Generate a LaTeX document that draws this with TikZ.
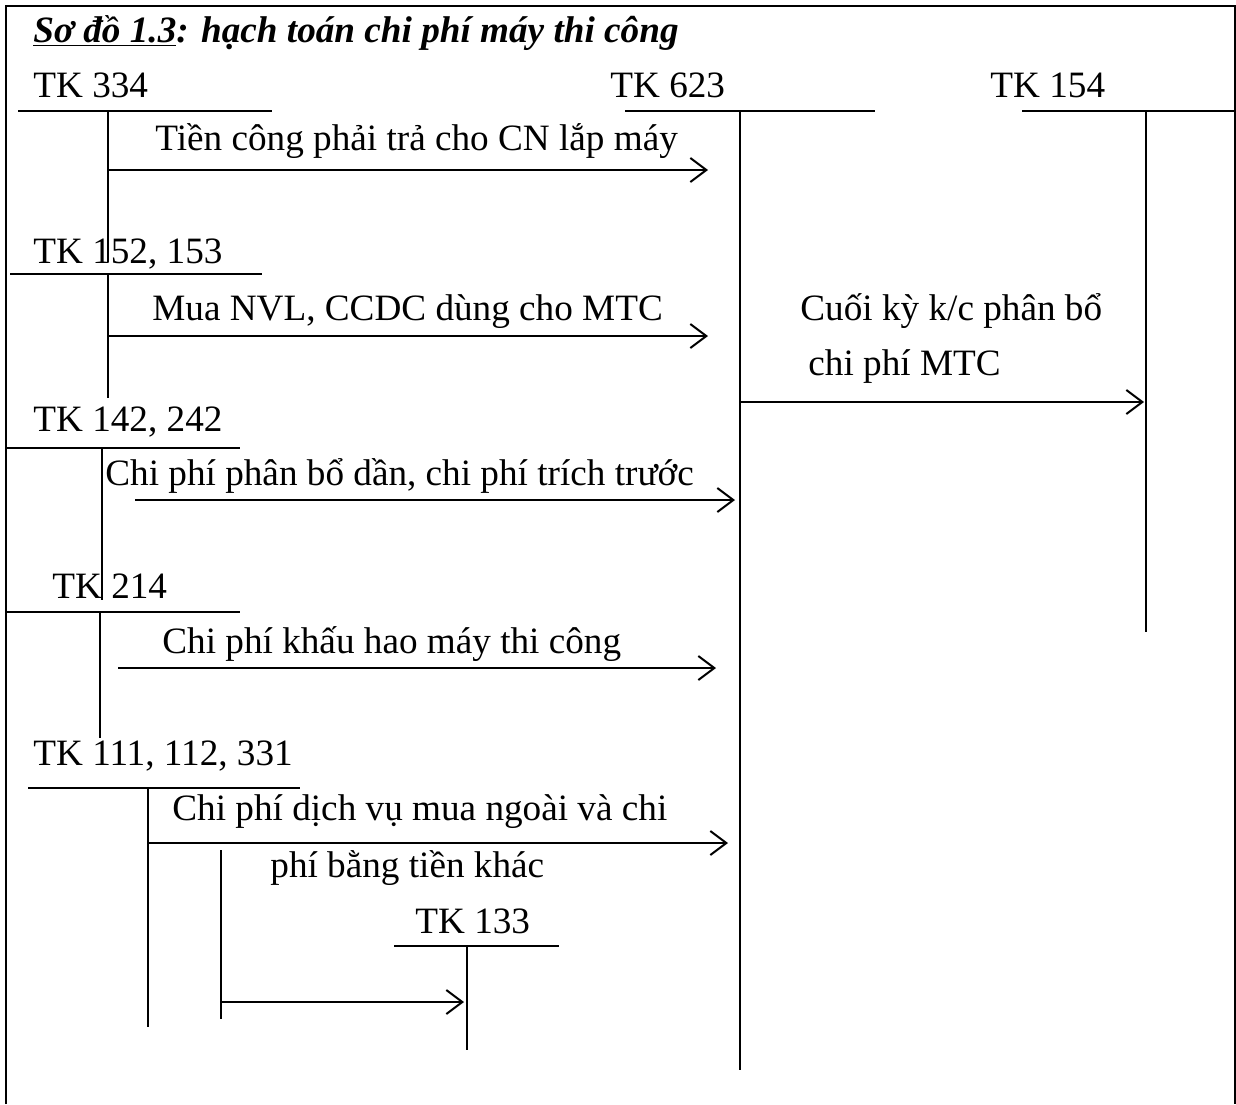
\documentclass[tikz,border=0pt]{standalone}
\usepackage{fontspec}
\setmainfont{Liberation Serif}
\usetikzlibrary{arrows.meta,calc,positioning}

\begin{document}
\begin{tikzpicture}[x=0.5pt,y=-0.5pt,
  txt/.style={inner sep=0pt,anchor=base west,font=\fontsize{18.6}{22}\selectfont},
  acc/.style={line width=0.9pt},
  arr/.style={-{Straight Barb[length=8pt,width=12pt,line width=1pt]},line width=1.1pt}
]
  \useasboundingbox (0,0) rectangle (1236,1104);
  \draw[acc] (6,1104) |- (1235,6) -- (1235,1104);
  \node[txt,font=\fontsize{18.6}{22}\selectfont\bfseries\itshape] (title) at (33,42)
    {\underline{Sơ đồ 1.3}: hạch toán chi phí máy thi công};

  % tai khoan chu T
  \node[txt] (n334) at (33,97) {TK 334};
  \coordinate (t334) at (108,111);
  \draw[acc] (18,111) -- (272,111) (t334) -- ++(0,151);
  \node[txt] (n623) at (610,97) {TK 623};
  \coordinate (t623) at (740,111);
  \draw[acc] (625,111) -- (875,111) (t623) -- ++(0,959);
  \node[txt] (n154) at (990,97) {TK 154};
  \coordinate (t154) at (1146,111);
  \draw[acc] (1022,111) -- (1235,111) (t154) -- ++(0,521);
  \node[txt] (n152) at (33,263) {TK 152, 153};
  \coordinate (t152) at (108,274);
  \draw[acc] (10,274) -- (262,274) (t152) -- ++(0,124);
  \node[txt] (n142) at (33,431) {TK 142, 242};
  \coordinate (t142) at (102,448);
  \draw[acc] (6,448) -- (240,448) (t142) -- ++(0,152);
  \node[txt] (n214) at (52,598) {TK 214};
  \coordinate (t214) at (100,612);
  \draw[acc] (6,612) -- (240,612) (t214) -- ++(0,126);
  \node[txt] (n111) at (33,765) {TK 111, 112, 331};
  \coordinate (t111) at (148,788);
  \draw[acc] (28,788) -- (300,788) (t111) -- ++(0,239);
  \coordinate (t111b) at (221,850);
  \draw[acc] (t111b) -- ++(0,169);
  \node[txt] (n133) at (415,933) {TK 133};
  \coordinate (t133) at (467,946);
  \draw[acc] (394,946) -- (559,946) (t133) -- ++(0,104);

  % but toan
  \draw[arr] (t334 |- 0,170) -- ($(t623 |- 0,170)+(-32,0)$);
  \node[txt] (k1) at (155,150) {Tiền công phải trả cho CN lắp máy};
  \draw[arr] (t152 |- 0,336) -- ($(t623 |- 0,336)+(-32,0)$);
  \node[txt] (k2) at (152,320) {Mua NVL, CCDC dùng cho MTC};
  \draw[arr] ($(t142 |- 0,500)+(33,0)$) -- ($(t623 |- 0,500)+(-5,0)$);
  \node[txt] (k3) at (105,485) {Chi phí phân bổ dần, chi phí trích trước};
  \draw[arr] ($(t214 |- 0,668)+(18,0)$) -- ($(t623 |- 0,668)+(-24,0)$);
  \node[txt] (k4) at (162,653) {Chi phí khấu hao máy thi công};
  \draw[arr] (t111 |- 0,843) -- ($(t623 |- 0,843)+(-12,0)$);
  \node[txt] (k5) at (172,820) {Chi phí dịch vụ mua ngoài và chi};
  \node[txt] (k5b) at (270,877) {phí bằng tiền khác};
  \draw[arr] (t111b |- 0,1002) -- ($(t133 |- 0,1002)+(-3,0)$);
  \draw[arr] (t623 |- 0,402) -- ($(t154 |- 0,402)+(-2,0)$);
  \node[txt] (k6) at (800,320) {Cuối kỳ k/c phân bổ};
  \node[txt] (k6b) at (808,375) {chi phí MTC};
\end{tikzpicture}
\end{document}
